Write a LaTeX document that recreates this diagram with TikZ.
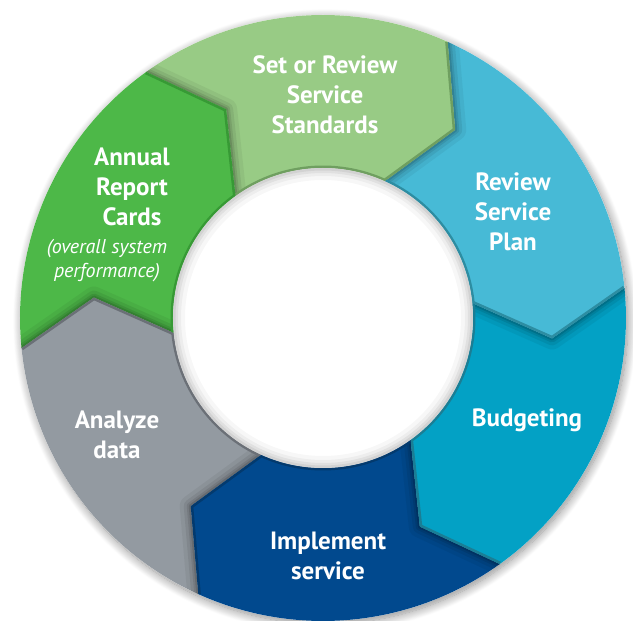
\documentclass[tikz,border=0pt]{standalone}
\usepackage{fontspec}
\setmainfont{PT Sans}
\usetikzlibrary{shadows.blur}
\definecolor{cSet}{HTML}{98CB85}
\definecolor{cSetD}{HTML}{6F9F60}
\definecolor{cPlan}{HTML}{47BAD6}
\definecolor{cPlanD}{HTML}{2D8DA2}
\definecolor{cBud}{HTML}{03A1C5}
\definecolor{cBudD}{HTML}{1A7E95}
\definecolor{cImp}{HTML}{01498E}
\definecolor{cImpD}{HTML}{033A6E}
\definecolor{cAna}{HTML}{939AA1}
\definecolor{cAnaD}{HTML}{6B7077}
\definecolor{cAnn}{HTML}{4DB848}
\definecolor{cAnnD}{HTML}{379A35}
\def\Ro{303pt}
\def\Ri{150pt}
\def\Rt{230pt}
\def\td{10.8}
\newcommand{\segpath}[1]{(#1:\Ro) arc[start angle=#1, end angle=#1-60, radius=\Ro] -- ({#1-60-\td}:\Rt) -- ({#1-60}:\Ri) arc[start angle=#1-60, end angle=#1, radius=\Ri] -- ({#1-\td}:\Rt) -- cycle}
\newcommand{\segment}[2]{%
  \fill[#2] \segpath{#1};}
\newcommand{\segdeco}[1]{%
  \begin{scope}
    \clip \segpath{#1};
    \foreach \w/\o in {22/0.05,14/0.07,8/0.09,4/0.12}
      \draw[line width=\w pt, black, opacity=\o, line join=round] (#1:\Ro) -- ({#1-\td}:\Rt) -- (#1:\Ri);
  \end{scope}}
\newcommand{\segborder}[2]{%
  \begin{scope}
    \clip \segpath{#1};
    \draw[line width=5pt, #2, line join=round] ({#1-60}:\Ro) -- ({#1-60-\td}:\Rt) -- ({#1-60}:\Ri) arc[start angle=#1-60, end angle=#1, radius=\Ri];
  \end{scope}}
\tikzset{lbl/.style={text=white, align=center, font=\fontsize{25}{30}\selectfont\bfseries},
  sub/.style={text=white, align=center, font=\fontsize{20}{24}\selectfont\itshape}}
\begin{document}
\begin{tikzpicture}[x=1pt,y=1pt]
\useasboundingbox (-323,-303) rectangle (310,318);
% outer shadow disc
\fill[white, blur shadow={shadow xshift=2pt, shadow yshift=-3pt, shadow blur radius=9pt, shadow blur steps=14, shadow opacity=45}] (0,0) circle[radius=\Ro];
% segments
\segment{125.7}{cSet}
\segment{65.7}{cPlan}
\segment{5.7}{cBud}
\segment{-54.3}{cImp}
\segment{-114.3}{cAna}
\segment{185.7}{cAnn}
% tip shadows
\segdeco{125.7}
\segdeco{65.7}
\segdeco{5.7}
\segdeco{-54.3}
\segdeco{-114.3}
\segdeco{185.7}
% borders
\segborder{125.7}{cSetD}
\segborder{65.7}{cPlanD}
\segborder{5.7}{cBudD}
\segborder{-54.3}{cImpD}
\segborder{-114.3}{cAnaD}
\segborder{185.7}{cAnnD}
% hole
\fill[white] (0,0) circle[radius=\Ri];
\begin{scope}
  \clip (0,0) circle[radius=\Ri];
  \foreach \w/\o in {24/0.03,16/0.04,10/0.05,5/0.06}
    \draw[line width=\w pt, black, opacity=\o] (0,0) circle[radius=\Ri];
\end{scope}
% labels
\node[lbl] (set) at (2,223) {Set or Review\\Service\\Standards};
\node[lbl] (plan) at (190,106) {Review\\Service\\Plan};
\node[lbl] (bud) at (204,-102) {Budgeting};
\node[lbl] (imp) at (5,-238) {Implement\\service};
\node[lbl] (ana) at (-206,-117) {Analyze\\data};
\node[lbl] (ann) at (-191,131) {Annual\\Report\\Cards};
\node[sub] (annsub) at (-216,57) {(overall system\\performance)};
\end{tikzpicture}
\end{document}
